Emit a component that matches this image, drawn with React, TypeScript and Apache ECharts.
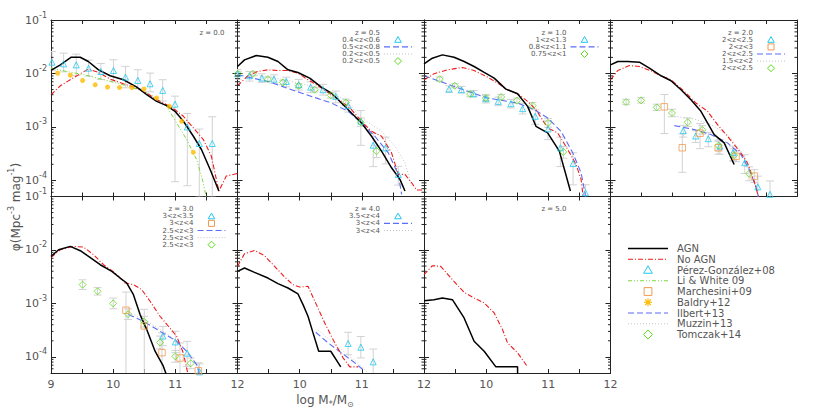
import React, { useEffect, useRef } from 'react';
import * as echarts from 'echarts';

type P = [number, number];
type E = [number, number, number, number];

// ===== data: [log M*, log phi] ; errors: [log M*, log phi, dex below, dex above] =====
// z = 0.0
const agnZ0: P[] = [[9.0,-1.944],[9.15,-1.839],[9.326,-1.696],[9.47,-1.696],[9.6,-1.776],[9.765,-1.932],[9.952,-2.043],[10.166,-2.118],[10.38,-2.255],[10.54,-2.398],[10.7,-2.522],[10.86,-2.602],[10.995,-2.708],[11.13,-2.894],[11.29,-3.174],[11.42,-3.422],[11.56,-3.795],[11.7,-4.199]];
const noAgnZ0: P[] = [[9.0,-2.398],[9.15,-2.23],[9.326,-2.106],[9.47,-2.006],[9.6,-1.919],[9.765,-1.981],[9.952,-2.106],[10.166,-2.193],[10.38,-2.273],[10.54,-2.366],[10.7,-2.49],[10.86,-2.584],[10.995,-2.677],[11.13,-2.801],[11.29,-3.019],[11.45,-3.236],[11.58,-3.547],[11.7,-4.199],[11.82,-3.919],[12.0,-3.87]];
const liWhiteZ0: P[] = [[9.0,-1.9],[9.257,-1.963],[9.604,-2.043],[9.952,-2.149],[10.22,-2.23],[10.487,-2.335],[10.701,-2.46],[10.861,-2.615],[11.021,-2.925],[11.182,-3.236],[11.342,-3.608],[11.449,-4.043],[11.503,-4.35]];
const pgZ0: E[] = [[9.016,-1.789,0.15,0.2],[9.203,-1.82,0.15,0.2],[9.406,-1.839,0.2,0.2],[9.604,-1.901,0.15,0.15],[9.802,-1.963,0.15,0.15],[10.005,-1.944,0.2,0.2],[10.198,-2.068,0.2,0.2],[10.396,-2.13,0.15,0.2],[10.594,-2.193,0.15,0.2],[10.797,-2.317,0.2,0.2],[10.995,-2.574,1.45,0.15],[11.193,-3.0,1.1,0.25],[11.385,-3.31,1.0,0.27],[11.594,-3.31,1.0,0.5]];
const baldryZ0: E[] = [[9.107,-1.994,0,0],[9.31,-2.031,0,0],[9.508,-2.13,0,0],[9.711,-2.211,0,0],[9.909,-2.255,0,0],[10.102,-2.261,0,0],[10.3,-2.261,0,0],[10.497,-2.292,0,0],[10.7,-2.46,0,0],[10.904,-2.615,0,0],[11.102,-2.894,0,0],[11.289,-3.472,0,0]];

// z = 0.5
const agnZ05: P[] = [[9.0,-1.87],[9.113,-1.745],[9.301,-1.665],[9.489,-1.696],[9.651,-1.776],[9.812,-1.932],[9.973,-1.981],[10.161,-2.087],[10.349,-2.255],[10.511,-2.366],[10.672,-2.553],[10.833,-2.739],[10.995,-2.925],[11.156,-3.174],[11.317,-3.453],[11.478,-3.764],[11.613,-3.981],[11.694,-4.199]];
const noAgnZ05: P[] = [[9.0,-2.23],[9.167,-2.043],[9.328,-1.963],[9.489,-1.932],[9.651,-1.944],[9.812,-1.944],[9.973,-1.994],[10.134,-2.118],[10.296,-2.23],[10.511,-2.398],[10.672,-2.522],[10.833,-2.677],[10.995,-2.894],[11.156,-3.081],[11.317,-3.174],[11.478,-3.484],[11.586,-3.888],[11.694,-3.888],[11.801,-4.043],[11.882,-4.18],[12.0,-4.18]];
const ilbertZ05: P[] = [[9.0,-2.025],[9.489,-2.149],[10.027,-2.366],[10.511,-2.553],[10.78,-2.708],[10.995,-2.925],[11.21,-3.174],[11.425,-3.484],[11.586,-3.888],[11.64,-4.26]];
const muzzinZ05: P[] = [[9.167,-2.006],[9.758,-2.118],[10.403,-2.292],[10.726,-2.491],[10.995,-2.832],[11.317,-3.081],[11.532,-3.36],[11.694,-3.671],[11.8,-4.106]];
const pgZ05: E[] = [[9.0,-2.006,0.1,0.08],[9.194,-2.043,0.1,0.08],[9.392,-2.087,0.08,0.08],[9.586,-2.106,0.08,0.08],[9.785,-2.149,0.1,0.08],[9.984,-2.211,0.1,0.1],[10.177,-2.255,0.1,0.1],[10.376,-2.304,0.1,0.1],[10.581,-2.429,0.12,0.1],[10.78,-2.602,0.12,0.1],[10.984,-2.894,0.45,0.2],[11.183,-3.342,0.4,0.22],[11.382,-3.391,0.3,0.2],[11.586,-3.888,0.2,0.15]];
const tzZ05: E[] = [[9.005,-2.006,0.04,0.04],[9.247,-2.006,0.04,0.04],[9.489,-2.106,0.04,0.04],[9.731,-2.168,0.04,0.04],[9.984,-2.23,0.04,0.04],[10.242,-2.304,0.04,0.04],[10.5,-2.41,0.05,0.05],[10.742,-2.54,0.06,0.06],[10.984,-2.913,0.08,0.08],[11.237,-3.453,0.12,0.1]];

// z = 1.0
const agnZ1: P[] = [[9.0,-1.82],[9.134,-1.714],[9.296,-1.652],[9.484,-1.696],[9.645,-1.776],[9.806,-1.87],[9.968,-1.981],[10.129,-2.087],[10.317,-2.292],[10.505,-2.379],[10.667,-2.615],[10.801,-2.988],[10.989,-3.112],[11.177,-3.453],[11.355,-4.199]];
const noAgnZ1: P[] = [[9.0,-2.118],[9.161,-2.006],[9.376,-1.932],[9.618,-1.888],[9.806,-1.944],[10.022,-2.068],[10.183,-2.18],[10.344,-2.304],[10.505,-2.379],[10.667,-2.522],[10.801,-2.677],[10.989,-3.019],[11.151,-3.112],[11.312,-3.422],[11.446,-3.702],[11.527,-3.981],[11.565,-4.35]];
const ilbertZ1: P[] = [[9.0,-2.043],[9.484,-2.242],[10.022,-2.46],[10.505,-2.553],[10.774,-2.677],[10.989,-2.832],[11.204,-3.081],[11.392,-3.484],[11.527,-3.857],[11.608,-4.35]];
const pgZ1: E[] = [[9.403,-2.292,0.06,0.06],[9.602,-2.304,0.06,0.06],[9.796,-2.379,0.06,0.06],[9.995,-2.472,0.08,0.08],[10.194,-2.522,0.08,0.08],[10.398,-2.565,0.08,0.08],[10.586,-2.658,0.1,0.1],[10.79,-2.801,0.15,0.12],[10.995,-3.037,0.2,0.15],[11.194,-3.391,0.35,0.2],[11.398,-3.683,0.4,0.2],[11.597,-4.23,0.3,0.15]];
const tzZ1: E[] = [[9.253,-2.106,0.04,0.04],[9.495,-2.23,0.04,0.04],[9.742,-2.385,0.05,0.05],[9.995,-2.46,0.05,0.05],[10.242,-2.441,0.05,0.05],[10.495,-2.509,0.05,0.05],[10.747,-2.602,0.06,0.06],[10.995,-2.925,0.08,0.08],[11.242,-3.466,0.12,0.1]];

// z = 2.0
const agnZ2: P[] = [[9.0,-1.839],[9.118,-1.776],[9.278,-1.776],[9.465,-1.789],[9.626,-1.901],[9.813,-2.043],[9.973,-2.137],[10.134,-2.304],[10.294,-2.491],[10.455,-2.708],[10.668,-3.143],[10.829,-3.298],[10.989,-3.702]];
const noAgnZ2: P[] = [[9.0,-2.118],[9.118,-1.944],[9.305,-1.851],[9.465,-1.87],[9.652,-1.95],[9.813,-2.043],[9.973,-2.118],[10.187,-2.335],[10.374,-2.553],[10.561,-2.708],[10.722,-2.957],[10.882,-3.174],[11.096,-3.484],[11.203,-3.671],[11.31,-4.012],[11.39,-4.35]];
const ilbertZ2: P[] = [[10.027,-2.975],[10.348,-3.05],[10.615,-3.143],[10.882,-3.298],[11.096,-3.516],[11.23,-3.795],[11.337,-4.106],[11.39,-4.35]];
const muzzinZ2: P[] = [[10.027,-2.801],[10.348,-2.851],[10.615,-2.957],[10.882,-3.143],[11.096,-3.453],[11.23,-3.795],[11.364,-4.199]];
const pgZ2: E[] = [[10.17,-3.07,0.12,0.1],[10.37,-3.17,0.12,0.1],[10.573,-3.22,0.15,0.12],[10.76,-3.36,0.15,0.12],[10.97,-3.48,0.15,0.12],[11.16,-3.67,0.2,0.15],[11.37,-4.12,0.3,0.2],[11.566,-4.26,0.3,0.25]];
const maZ2: E[] = [[9.866,-2.624,0.5,0.23],[10.155,-3.389,0.46,0.26],[10.44,-3.117,0.29,0.18],[10.734,-3.389,0.12,0.12],[11.02,-3.55,0.1,0.1],[11.313,-3.92,0.12,0.12]];
const tzZ2: E[] = [[9.251,-2.534,0.05,0.05],[9.492,-2.503,0.05,0.05],[9.743,-2.634,0.06,0.06],[9.989,-2.739,0.07,0.07],[10.241,-2.913,0.08,0.08],[10.476,-3.055,0.08,0.08],[10.738,-3.348,0.1,0.1],[10.989,-3.528,0.12,0.12],[11.23,-3.876,0.13,0.13]];

// z = 3.0
const agnZ3: P[] = [[9.0,-2.12],[9.123,-1.996],[9.31,-1.933],[9.471,-2.014],[9.604,-2.12],[9.791,-2.276],[9.979,-2.4],[10.112,-2.525],[10.219,-2.618],[10.326,-2.836],[10.433,-3.209],[10.54,-3.489],[10.674,-3.894],[10.807,-4.174],[10.861,-4.35]];
const noAgnZ3: P[] = [[9.0,-2.139],[9.15,-1.996],[9.364,-1.933],[9.524,-1.946],[9.684,-2.089],[9.845,-2.276],[10.032,-2.431],[10.193,-2.618],[10.326,-2.649],[10.46,-2.742],[10.594,-2.96],[10.754,-3.24],[10.888,-3.427],[11.021,-3.614],[11.128,-3.925],[11.208,-4.35]];
const ilbertZ3: P[] = [[10.246,-3.209],[10.487,-3.334],[10.754,-3.52],[11.021,-3.707],[11.182,-3.894],[11.342,-4.143],[11.396,-4.35]];
const muzzinZ3: P[] = [[10.25,-3.17],[10.5,-3.3],[10.75,-3.48],[11.0,-3.68],[11.25,-3.97],[11.4,-4.3]];
const pgZ3: E[] = [[10.8,-3.61,0.18,0.18],[11.0,-3.72,0.2,0.2],[11.19,-3.93,0.25,0.22],[11.39,-4.28,0.3,0.15]];
const maZ3: E[] = [[10.206,-3.127,1.2,0.34],[10.5,-3.42,1.0,0.31],[10.785,-3.92,0.5,0.37],[11.075,-4.02,0.3,0.28],[11.37,-4.26,0.3,0.15]];
const tzZ3: E[] = [[9.508,-2.649,0.09,0.09],[9.749,-2.773,0.07,0.07],[10.0,-3.0,0.1,0.1],[10.24,-3.2,0.1,0.1],[10.496,-3.34,0.1,0.1],[10.753,-3.73,0.12,0.12],[11.0,-3.99,0.11,0.11],[11.247,-4.12,0.1,0.1]];

// z = 4.0
const agnZ4: P[] = [[9.0,-2.4],[9.113,-2.338],[9.274,-2.419],[9.489,-2.525],[9.651,-2.63],[9.812,-2.711],[9.973,-2.823],[10.054,-3.022],[10.134,-3.24],[10.215,-3.551],[10.306,-3.894],[10.5,-3.894],[10.661,-4.186]];
const noAgnZ4: P[] = [[9.0,-2.307],[9.113,-2.07],[9.274,-2.008],[9.435,-2.108],[9.597,-2.307],[9.758,-2.506],[9.892,-2.649],[10.0,-2.693],[10.134,-2.68],[10.269,-3.022],[10.403,-3.365],[10.565,-3.738],[10.699,-4.018],[10.806,-4.186],[10.941,-4.186]];
const ilbertZ4: P[] = [[10.258,-3.539],[10.457,-3.738],[10.672,-3.925],[10.887,-4.111],[11.048,-4.267]];
const muzzinZ4: P[] = [[10.3,-3.5],[10.6,-3.8],[10.9,-4.08],[11.1,-4.3]];
const pgZ4: E[] = [[10.78,-3.75,0.21,0.21],[10.984,-3.819,0.2,0.2],[11.183,-4.093,0.5,0.24]];

// z = 5.0
const agnZ5: P[] = [[9.0,-2.948],[9.161,-2.929],[9.296,-2.898],[9.457,-2.929],[9.645,-3.271],[9.806,-3.707],[9.968,-3.894],[10.156,-4.186],[10.505,-4.186],[10.506,-4.4]];
const noAgnZ5: P[] = [[9.0,-2.462],[9.134,-2.294],[9.269,-2.307],[9.457,-2.556],[9.645,-2.792],[9.806,-2.898],[9.968,-2.991],[10.129,-3.178],[10.263,-3.489],[10.344,-3.738],[10.505,-3.925],[10.667,-4.186]];

const xTicks = [9, 10, 11, 12];
const legendNames = ['AGN', 'No AGN', 'Pérez-González+08', 'Li & White 09', 'Marchesini+09', 'Baldry+12', 'Ilbert+13', 'Muzzin+13', 'Tomczak+14'];
const legendKinds = ['agn', 'noagn', 'tri', 'li', 'sq', 'star', 'ilbert', 'muzzin', 'dia'];

// ===== styles =====
const LINE: Record<string, { color: string; width: number; type: any }> = {
  agn: { color: '#000000', width: 1.5, type: 'solid' },
  noagn: { color: '#ee1c1c', width: 1.1, type: [5, 2, 1, 2] },
  li: { color: '#7ad83a', width: 1, type: [4, 2, 1, 2, 1, 2] },
  ilbert: { color: '#5b6cf5', width: 1.1, type: [6, 3] },
  muzzin: { color: '#c4c4c4', width: 1, type: [1, 2] },
};
const MARK: Record<string, { symbol: string; size: number; color: string }> = {
  tri: { symbol: 'triangle', size: 6, color: '#1ec8f0' },
  sq: { symbol: 'rect', size: 6.5, color: '#f39a50' },
  dia: { symbol: 'diamond', size: 7, color: '#5fdc1e' },
  star: { symbol: 'path://M5,0L5,10M0,5L10,5M1.5,1.5L8.5,8.5M1.5,8.5L8.5,1.5', size: 5, color: '#ffbc00' },
};

type Panel = { z: string; zRight?: number; agn: P[]; noagn: P[]; lines: [string, P[]][]; marks: [string, E[]][]; legend: [string, string][] };
const PANELS: Panel[] = [
  { z: 'z = 0.0', zRight: 13, agn: agnZ0, noagn: noAgnZ0, lines: [['li', liWhiteZ0]], marks: [['tri', pgZ0], ['star', baldryZ0]], legend: [] },
  { z: 'z = 0.5', agn: agnZ05, noagn: noAgnZ05, lines: [['muzzin', muzzinZ05], ['ilbert', ilbertZ05]], marks: [['tri', pgZ05], ['dia', tzZ05]], legend: [['0.4<z<0.6', 'tri'], ['0.5<z<0.8', 'ilbert'], ['0.2<z<0.5', 'muzzin'], ['0.2<z<0.5', 'dia']] },
  { z: 'z = 1.0', agn: agnZ1, noagn: noAgnZ1, lines: [['ilbert', ilbertZ1]], marks: [['tri', pgZ1], ['dia', tzZ1]], legend: [['1<z<1.3', 'tri'], ['0.8<z<1.1', 'ilbert'], ['0.75<z<1', 'dia']] },
  { z: 'z = 2.0', agn: agnZ2, noagn: noAgnZ2, lines: [['muzzin', muzzinZ2], ['ilbert', ilbertZ2]], marks: [['tri', pgZ2], ['sq', maZ2], ['dia', tzZ2]], legend: [['2<z<2.5', 'tri'], ['2<z<3', 'sq'], ['2<z<2.5', 'ilbert'], ['1.5<z<2', 'muzzin'], ['2<z<2.5', 'dia']] },
  { z: 'z = 3.0', agn: agnZ3, noagn: noAgnZ3, lines: [['muzzin', muzzinZ3], ['ilbert', ilbertZ3]], marks: [['tri', pgZ3], ['sq', maZ3], ['dia', tzZ3]], legend: [['3<z<3.5', 'tri'], ['3<z<4', 'sq'], ['2.5<z<3', 'ilbert'], ['2.5<z<3', 'muzzin'], ['2.5<z<3', 'dia']] },
  { z: 'z = 4.0', agn: agnZ4, noagn: noAgnZ4, lines: [['muzzin', muzzinZ4], ['ilbert', ilbertZ4]], marks: [['tri', pgZ4]], legend: [['3.5<z<4', 'tri'], ['3<z<4', 'ilbert'], ['3<z<4', 'muzzin']] },
  { z: 'z = 5.0', agn: agnZ5, noagn: noAgnZ5, lines: [], marks: [], legend: [] },
];

const COLS = [51, 237.5, 424, 610.5];
const ROWS = [20, 196.5];
const GW = 186.5;
const GH = 176.5;
const POS: [number, number][] = [[0, 0], [0, 1], [0, 2], [0, 3], [1, 0], [1, 1], [1, 2]];
const YMIN = 5e-5;
const YMAX = 0.1;
const AX = '#222';
const TXT = '#555';

const minorVals: number[] = [];
for (let e = -5; e <= -2; e++) for (let k = 2; k <= 9; k++) { const v = k * Math.pow(10, e); if (v > YMIN * 1.001 && v < YMAX) minorVals.push(v); }

const toXY = (d: P[]) => d.map(([x, y]) => [x, Math.pow(10, y)]);

function sample(kind: string, cx: number, cy: number, s: number, half: number): any[] {
  if (LINE[kind]) {
    const st = LINE[kind];
    return [{ type: 'line', silent: true, shape: { x1: cx - half, y1: cy, x2: cx + half, y2: cy }, style: { stroke: st.color, lineWidth: st.width, lineDash: Array.isArray(st.type) ? st.type : null } }];
  }
  const c = MARK[kind].color;
  const st = { fill: 'none', stroke: c, lineWidth: 1 };
  if (kind === 'tri') return [{ type: 'polygon', silent: true, shape: { points: [[cx, cy - 3.2 * s], [cx - 3.3 * s, cy + 2.5 * s], [cx + 3.3 * s, cy + 2.5 * s]] }, style: st }];
  if (kind === 'sq') return [{ type: 'rect', silent: true, shape: { x: cx - 3 * s, y: cy - 3 * s, width: 6 * s, height: 6 * s }, style: st }];
  if (kind === 'dia') return [{ type: 'polygon', silent: true, shape: { points: [[cx, cy - 3.5 * s], [cx + 3.5 * s, cy], [cx, cy + 3.5 * s], [cx - 3.5 * s, cy]] }, style: st }];
  const r = 3 * s, q = 2.1 * s;
  const st2 = { stroke: c, lineWidth: 1.2 };
  return [
    { type: 'line', silent: true, shape: { x1: cx, y1: cy - r, x2: cx, y2: cy + r }, style: st2 },
    { type: 'line', silent: true, shape: { x1: cx - r, y1: cy, x2: cx + r, y2: cy }, style: st2 },
    { type: 'line', silent: true, shape: { x1: cx - q, y1: cy - q, x2: cx + q, y2: cy + q }, style: st2 },
    { type: 'line', silent: true, shape: { x1: cx - q, y1: cy + q, x2: cx + q, y2: cy - q }, style: st2 },
  ];
}

function buildOption() {
  const grid: any[] = [];
  const xAxis: any[] = [];
  const yAxis: any[] = [];
  const series: any[] = [];
  const graphic: any[] = [];

  PANELS.forEach((p, i) => {
    const [row, col] = POS[i];
    const left = COLS[col];
    const top = ROWS[row];
    grid.push({ left, top, width: GW, height: GH, containLabel: false });
    const hide9 = col > 0;
    const common = { gridIndex: i, type: 'value', min: 9, max: 12, interval: 0.5, splitLine: { show: false }, axisLine: { show: true, onZero: false, lineStyle: { color: AX, width: 1 } }, axisTick: { show: true, inside: true, length: 4, lineStyle: { color: AX } } };
    xAxis.push({
      ...common, position: 'bottom',
      axisLabel: {
        show: row === 1, color: TXT, fontFamily: 'DejaVu Sans', fontSize: 11, margin: 6,
        formatter: (v: number) => { const r = Math.round(v); if (Math.abs(v - r) > 1e-6 || !xTicks.includes(r)) return ''; if (hide9 && r === 9) return ''; return String(r); },
      },
    });
    xAxis.push({ ...common, position: 'top', axisLabel: { show: false } });
    const ycommon = { gridIndex: i, type: 'log', logBase: 10, min: YMIN, max: YMAX, splitLine: { show: false }, axisLine: { show: true, onZero: false, lineStyle: { color: AX, width: 1 } }, axisTick: { show: true, inside: true, length: 5, lineStyle: { color: AX } } };
    yAxis.push({
      ...ycommon, position: 'left',
      axisLabel: {
        show: col === 0, color: TXT, fontFamily: 'DejaVu Sans', fontSize: 11, margin: 4, lineHeight: 18,
        formatter: (v: number) => { const l = Math.log10(v); const e = Math.round(l); if (Math.abs(l - e) > 1e-6) return ''; return `10{e|${e}}`; },
        rich: { e: { fontSize: 8, color: TXT, fontFamily: 'DejaVu Sans', verticalAlign: 'top', lineHeight: 10 } },
      },
    });
    yAxis.push({ ...ycommon, position: 'right', axisLabel: { show: false } });

    const xi = 2 * i;
    const yi = 2 * i;
    // minor log ticks on both sides
    series.push({
      type: 'custom', xAxisIndex: xi, yAxisIndex: yi, silent: true, z: 6,
      data: minorVals.map((v) => [9, v]),
      renderItem: (_: any, api: any) => {
        const l = api.coord([9, api.value(1)]);
        const r = api.coord([12, api.value(1)]);
        const s = { stroke: AX, lineWidth: 1 };
        return { type: 'group', children: [
          { type: 'line', shape: { x1: l[0], y1: l[1], x2: l[0] + 2.5, y2: l[1] }, style: s },
          { type: 'line', shape: { x1: r[0] - 2.5, y1: r[1], x2: r[0], y2: r[1] }, style: s },
        ] };
      },
    });
    // error bars
    p.marks.forEach(([, d]) => {
      const withErr = d.filter((e) => e[2] > 0 || e[3] > 0);
      if (!withErr.length) return;
      series.push({
        type: 'custom', xAxisIndex: xi, yAxisIndex: yi, silent: true, clip: true, z: 1,
        data: withErr.map(([x, y, lo, hi]) => [x, Math.pow(10, y), Math.pow(10, y - lo), Math.pow(10, y + hi)]),
        renderItem: (_: any, api: any) => {
          const x = api.value(0);
          const a = api.coord([x, api.value(3)]);
          const b = api.coord([x, api.value(2)]);
          const s = { stroke: '#d2d2d2', lineWidth: 1 };
          return { type: 'group', children: [
            { type: 'line', shape: { x1: a[0], y1: a[1], x2: b[0], y2: b[1] }, style: s },
            { type: 'line', shape: { x1: a[0] - 4, y1: a[1], x2: a[0] + 4, y2: a[1] }, style: s },
            { type: 'line', shape: { x1: b[0] - 4, y1: b[1], x2: b[0] + 4, y2: b[1] }, style: s },
          ] };
        },
      });
    });
    // observational lines
    p.lines.forEach(([k, d]) => {
      series.push({ type: 'line', xAxisIndex: xi, yAxisIndex: yi, data: toXY(d), symbol: 'none', silent: true, z: 2, lineStyle: LINE[k] });
    });
    // models
    series.push({ type: 'line', xAxisIndex: xi, yAxisIndex: yi, data: toXY(p.noagn), symbol: 'none', silent: true, z: 3, lineStyle: LINE.noagn });
    series.push({ type: 'line', xAxisIndex: xi, yAxisIndex: yi, data: toXY(p.agn), symbol: 'none', silent: true, z: 3, lineStyle: LINE.agn });
    // markers
    p.marks.forEach(([k, d]) => {
      const m = MARK[k];
      series.push({
        type: 'scatter', xAxisIndex: xi, yAxisIndex: yi, silent: true, z: 4,
        data: d.map(([x, y]) => [x, Math.pow(10, y)]),
        symbol: m.symbol, symbolSize: m.size,
        itemStyle: { color: k === 'star' ? 'none' : 'rgba(255,255,255,0)', borderColor: m.color, borderWidth: k === 'star' ? 1.5 : 1 },
      });
    });

    // panel legend
    const right = left + GW;
    const zx = right - (p.zRight ?? 44);
    graphic.push({ type: 'text', silent: true, x: zx, y: top + 12.5, style: { text: p.z, fill: TXT, fontSize: 7, fontFamily: 'DejaVu Sans', align: 'right', verticalAlign: 'middle' } });
    p.legend.forEach(([label, kind], j) => {
      const cy = top + 19.8 + j * 7.1;
      graphic.push({ type: 'text', silent: true, x: right - 44, y: cy, style: { text: label, fill: TXT, fontSize: 7, fontFamily: 'DejaVu Sans', align: 'right', verticalAlign: 'middle' } });
      graphic.push(...sample(kind, right - 26, cy, 1, 14));
    });
  });

  // global legend
  legendNames.forEach((name, j) => {
    const cy = 248.5 + j * 10.75;
    graphic.push(...sample(legendKinds[j], 648, cy, 1.3, 20));
    graphic.push({ type: 'text', silent: true, x: 677, y: cy, style: { text: name, fill: TXT, fontSize: 10, fontFamily: 'DejaVu Sans', align: 'left', verticalAlign: 'middle' } });
  });

  // axis titles
  graphic.push({
    type: 'text', silent: true, x: 325, y: 400,
    style: { text: 'log M{b|*}/M{b|⊙}', fill: TXT, fontSize: 12, fontFamily: 'DejaVu Sans', lineHeight: 16, align: 'center', verticalAlign: 'middle',
      rich: { b: { fontSize: 8, fill: TXT, fontFamily: 'DejaVu Sans', verticalAlign: 'bottom', lineHeight: 10 } } },
  });
  graphic.push({
    type: 'text', silent: true, x: 16, y: 207, rotation: Math.PI / 2,
    style: { text: 'φ(Mpc{s|-3} mag{s|-1})', fill: TXT, fontSize: 12, fontFamily: 'DejaVu Sans', lineHeight: 18, align: 'center', verticalAlign: 'middle',
      rich: { s: { fontSize: 8, fill: TXT, fontFamily: 'DejaVu Sans', verticalAlign: 'top', lineHeight: 10 } } },
  });

  return { animation: false, backgroundColor: '#ffffff', grid, xAxis, yAxis, series, graphic };
}

export default function App() {
  const ref = useRef<HTMLDivElement>(null);
  useEffect(() => {
    const chart = echarts.init(ref.current!, null, { renderer: 'svg' });
    chart.setOption(buildOption() as any);
    return () => chart.dispose();
  }, []);
  return <div ref={ref} style={{ position: 'fixed', left: 0, top: 0, width: 830, height: 415, background: '#fff' }} />;
}
